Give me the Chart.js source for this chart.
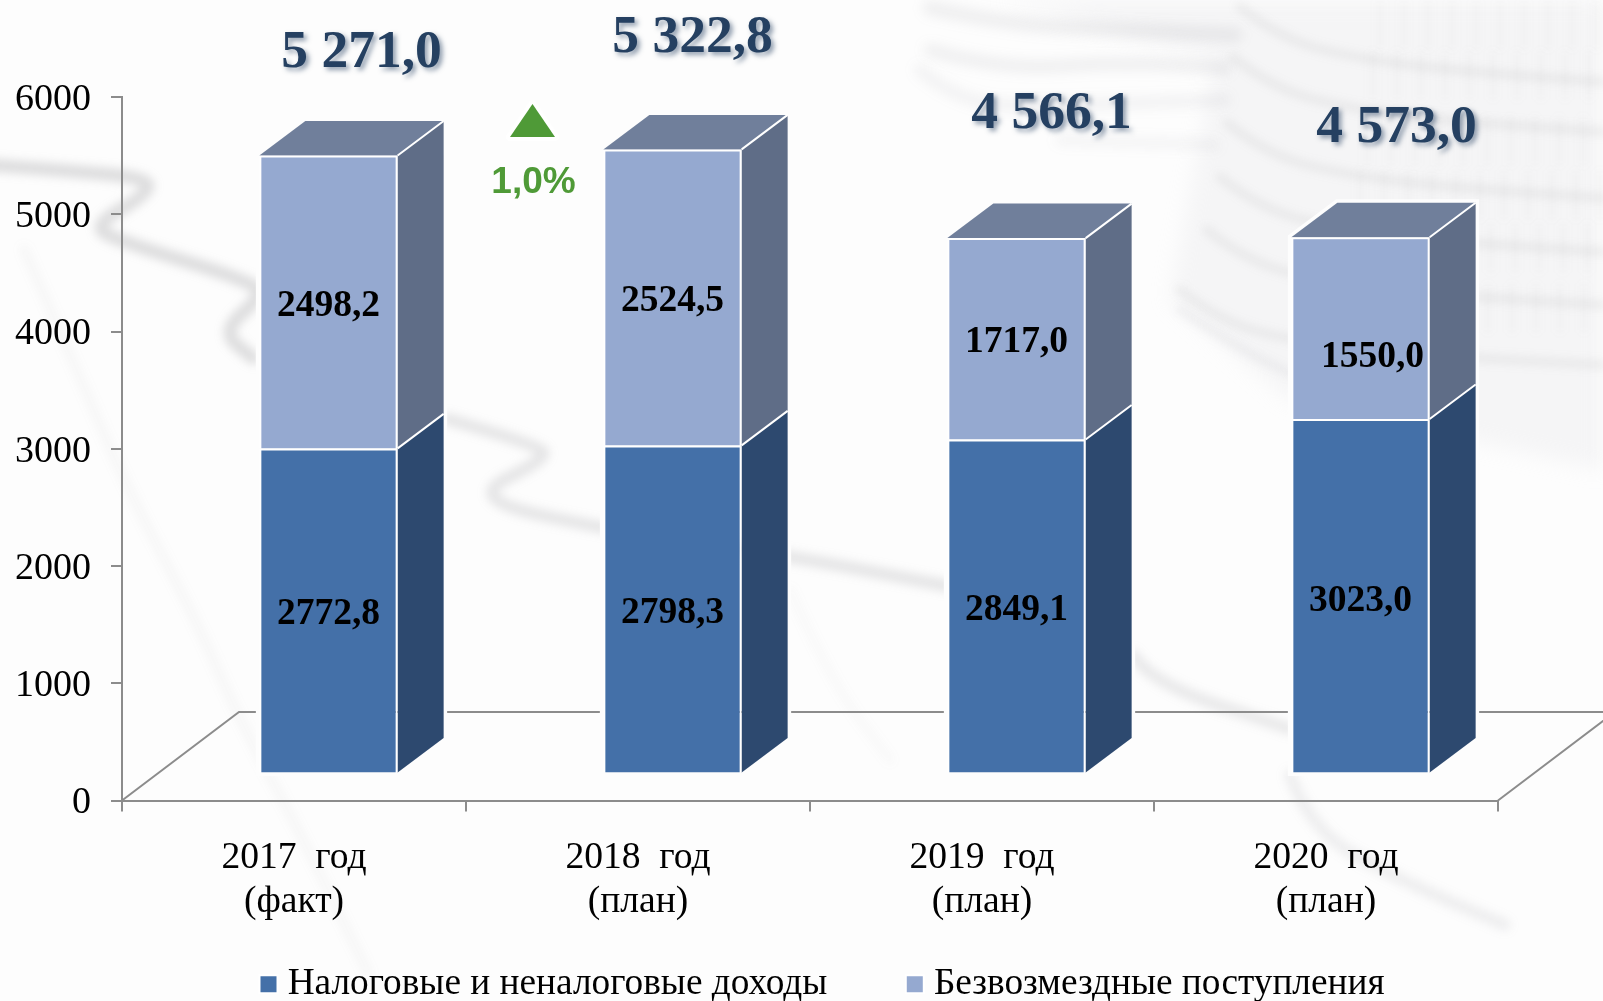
<!DOCTYPE html>
<html lang="ru">
<head>
<meta charset="utf-8">
<title>Доходы бюджета</title>
<script src="https://cdn.jsdelivr.net/npm/chart.js@4"></script>
<style>
  html, body { margin: 0; padding: 0; background: #fdfdfd; overflow: hidden; }
  canvas { display: block; }
</style>
</head>
<body>
<canvas id="myChart" width="1603" height="1001"></canvas>
<script>
const categories = [["2017  год", "(факт)"], ["2018  год", "(план)"], ["2019  год", "(план)"], ["2020  год", "(план)"]];
const taxIncome = [2772.8, 2798.3, 2849.1, 3023.0];
const grants = [2498.2, 2524.5, 1717.0, 1550.0];
const totals = [5271.0, 5322.8, 4566.1, 4573.0];
const seriesNames = ["Налоговые и неналоговые доходы", "Безвозмездные поступления"];
const growthLabel = "1,0%";

const serif = "'Liberation Serif', 'Times New Roman', serif";
const axisColor = "#8c8c8c";

// the floor of the fake 3D box and where the bars stand on it
const floorDx = 117;
const floorDy = 88.5;
const shiftX = 34.5;
const shiftY = -27;
const depthX = 46;
const depthY = 34.5;

// hand placed, the labels are not centred the same way on every bar
const totalOffsetX = [10, -3, 12, 13];
const totalOffsetY = [-68, -77, -89, -75];
const segmentLabelShift = { "1-3": [12, 25], "0-3": [0, 2] };

function fmt(v) {
  return v.toFixed(1).replace(".", ",");
}

function fmtTotal(v) {
  const s = fmt(v);
  return s.slice(0, 1) + " " + s.slice(1);
}

function poly(ctx, pts, fill) {
  ctx.beginPath();
  pts.forEach((p, i) => (i ? ctx.lineTo(p[0], p[1]) : ctx.moveTo(p[0], p[1])));
  ctx.closePath();
  ctx.fillStyle = fill;
  ctx.fill();
}

// smooth line through the midpoints of the given points
function swoosh(ctx, pts, width, alpha) {
  ctx.beginPath();
  ctx.moveTo(pts[0][0], pts[0][1]);
  for (let i = 1; i < pts.length - 1; i++) {
    ctx.quadraticCurveTo(pts[i][0], pts[i][1], (pts[i][0] + pts[i + 1][0]) / 2, (pts[i][1] + pts[i + 1][1]) / 2);
  }
  ctx.lineTo(pts[pts.length - 1][0], pts[pts.length - 1][1]);
  ctx.lineWidth = width;
  ctx.strokeStyle = "rgba(120,120,125," + alpha + ")";
  ctx.stroke();
}

// washed out picture behind the chart: stock line and coins
const backdrop = {
  id: "backdrop",
  beforeDraw(chart) {
    const ctx = chart.ctx;
    ctx.save();
    ctx.fillStyle = "#fdfdfd";
    ctx.fillRect(0, 0, 1603, 1001);
    ctx.lineCap = "round";
    ctx.lineJoin = "round";

    ctx.filter = "blur(5px)";
    swoosh(ctx, [[-10, 165], [59, 170], [150, 178], [146, 195], [92, 226], [119, 241], [253, 282],
      [262, 296], [221, 332], [253, 358]], 13, 0.24);
    swoosh(ctx, [[447, 419], [538, 445], [548, 458], [467, 498], [601, 529], [790, 556], [947, 586]], 12, 0.18);
    swoosh(ctx, [[1133, 655], [1151, 683], [1290, 729]], 12, 0.15);
    swoosh(ctx, [[1290, 775], [1310, 830], [1400, 880], [1505, 925]], 12, 0.11);
    swoosh(ctx, [[24, 249], [79, 375], [126, 486], [198, 624], [237, 715], [304, 840], [368, 973]], 9, 0.05);
    swoosh(ctx, [[790, 590], [830, 680], [890, 760]], 8, 0.04);

    // coins
    ctx.filter = "blur(10px)";
    poly(ctx, [[1000, 0], [1215, 60], [1170, 300], [1290, 400], [1603, 470], [1603, 0]], "rgba(225,225,228,0.25)");
    ctx.filter = "blur(6px)";
    swoosh(ctx, [[930, 8], [1010, 25], [1120, 30], [1235, 35]], 15, 0.1);
    swoosh(ctx, [[930, 50], [1000, 70], [1120, 62], [1225, 68]], 13, 0.1);
    swoosh(ctx, [[920, 70], [960, 105], [1060, 105], [1225, 100]], 12, 0.08);
    swoosh(ctx, [[1060, 140], [1130, 142], [1215, 145]], 10, 0.07);
    const bandX = [1240, 1233, 1227, 1220, 1207, 1180];
    const bandY = [7, 57, 123, 177, 230, 290];
    ctx.filter = "blur(4px)";
    bandX.forEach((x, i) => {
      swoosh(ctx, [[x, bandY[i]], [x + 40, bandY[i] + 32], [x + 120, bandY[i] + 52], [x + 220, bandY[i] + 64], [1603, bandY[i] + 75]], 9, 0.09);
      for (let sx = x + 140; sx < 1603; sx += 24) {
        swoosh(ctx, [[sx, bandY[i] - 4], [sx, bandY[i] + 40]], 7, 0.03);
      }
    });
    swoosh(ctx, [[1180, 310], [1240, 350], [1295, 375]], 9, 0.07);
    ctx.restore();
  },
};

const fake3d = {
  id: "fake3d",
  beforeDatasetsDraw(chart) {
    const ctx = chart.ctx;
    const area = chart.chartArea;
    ctx.save();
    ctx.strokeStyle = axisColor;
    ctx.lineWidth = 2;
    ctx.beginPath();
    ctx.moveTo(area.left, area.bottom);
    ctx.lineTo(area.left + floorDx, area.bottom - floorDy);
    ctx.lineTo(1603, area.bottom - floorDy);
    ctx.moveTo(area.right, area.bottom);
    ctx.lineTo(area.right + floorDx, area.bottom - floorDy);
    ctx.stroke();

    const low = chart.getDatasetMeta(0).data;
    const high = chart.getDatasetMeta(1).data;
    low.forEach((bar, i) => {
      const left = bar.x - bar.width / 2 + shiftX;
      const right = bar.x + bar.width / 2 + shiftX;
      const base = bar.base + shiftY;
      const mid = bar.y + shiftY;
      const top = high[i].y + shiftY;
      const halo = [[left, base], [left, top], [left + depthX, top - depthY], [right + depthX, top - depthY], [right + depthX, base - depthY], [right, base]];
      ctx.beginPath();
      halo.forEach((p, k) => (k ? ctx.lineTo(p[0], p[1]) : ctx.moveTo(p[0], p[1])));
      ctx.closePath();
      ctx.strokeStyle = "#fdfdfd";
      ctx.lineWidth = 7;
      ctx.stroke();

      poly(ctx, [[right, base], [right + depthX, base - depthY], [right + depthX, mid - depthY], [right, mid]], "#2d496f");
      poly(ctx, [[right, mid], [right + depthX, mid - depthY], [right + depthX, top - depthY], [right, top]], "#5f6d87");
      poly(ctx, [[left, top], [left + depthX, top - depthY], [right + depthX, top - depthY], [right, top]], "#707f9b");

      ctx.strokeStyle = "#ffffff";
      ctx.lineWidth = 2;
      ctx.beginPath();
      ctx.moveTo(right, top);
      ctx.lineTo(right + depthX, top - depthY);
      ctx.moveTo(right, mid);
      ctx.lineTo(right + depthX, mid - depthY);
      ctx.stroke();
    });
    ctx.restore();

    // bars themselves get pushed onto the floor
    ctx.save();
    ctx.translate(shiftX, shiftY);
  },
  afterDatasetsDraw(chart) {
    const ctx = chart.ctx;
    ctx.restore();

    const y = chart.scales.y;
    const stacks = [taxIncome, grants];
    ctx.save();
    ctx.textAlign = "center";
    ctx.textBaseline = "middle";
    ctx.fillStyle = "#000000";
    ctx.font = "bold 37.5px " + serif;
    stacks.forEach((values, s) => {
      chart.getDatasetMeta(s).data.forEach((bar, i) => {
        const shift = segmentLabelShift[s + "-" + i] || [0, 0];
        ctx.fillText(fmt(values[i]), bar.x + shiftX + shift[0], (bar.y + bar.base) / 2 + shiftY + 4 + shift[1]);
      });
    });

    ctx.font = "bold 53.5px " + serif;
    ctx.fillStyle = "#254061";
    ctx.shadowColor = "rgba(37,64,97,0.5)";
    ctx.shadowBlur = 5;
    ctx.shadowOffsetX = 3;
    ctx.shadowOffsetY = 3;
    totals.forEach((total, i) => {
      const bar = chart.getDatasetMeta(1).data[i];
      ctx.fillText(fmtTotal(total), bar.x + shiftX + depthX / 2 + totalOffsetX[i], y.getPixelForValue(total) + shiftY - depthY + totalOffsetY[i]);
    });
    ctx.restore();

    // growth mark between first two bars
    ctx.save();
    ctx.beginPath();
    ctx.moveTo(532.5, 104);
    ctx.lineTo(555, 137);
    ctx.lineTo(510, 137);
    ctx.closePath();
    ctx.strokeStyle = "#ffffff";
    ctx.lineWidth = 8;
    ctx.lineJoin = "round";
    ctx.stroke();
    ctx.fillStyle = "#4f9a37";
    ctx.fill();
    ctx.font = "bold 37px 'Liberation Sans', Arial, sans-serif";
    ctx.textAlign = "center";
    ctx.textBaseline = "middle";
    ctx.fillText(growthLabel, 533.5, 183);
    ctx.restore();
  },
  afterLayout(chart) {
    // legend sits lower right of its normal place, padding only spaces the two items
    const legend = chart.legend;
    const padding = 87;
    legend.left = 268 - padding;
    legend.right = legend.left + 1400;
    legend.top = 965.5 - padding;
  },
};

new Chart(document.getElementById("myChart"), {
  type: "bar",
  data: {
    labels: categories,
    datasets: [
      {
        label: seriesNames[0],
        data: taxIncome,
        backgroundColor: "#4470a8",
        borderColor: "#ffffff",
        borderWidth: 2,
      },
      {
        label: seriesNames[1],
        data: grants,
        backgroundColor: "#95a9d0",
        borderColor: "#ffffff",
        borderWidth: 2,
      },
    ],
  },
  plugins: [backdrop, fake3d],
  options: {
    responsive: false,
    animation: false,
    events: [],
    layout: {
      autoPadding: false,
      padding: { top: 97, right: 105, left: 0, bottom: 0 },
    },
    datasets: {
      bar: { categoryPercentage: 1, barPercentage: 0.402 },
    },
    scales: {
      x: {
        stacked: true,
        afterFit(axis) {
          axis.height = 140.5;
        },
        border: { color: axisColor, width: 2 },
        grid: { drawOnChartArea: false, color: axisColor, lineWidth: 2, tickLength: 11, offset: true },
        ticks: {
          autoSkip: false,
          maxRotation: 0,
          padding: 24,
          color: "#000000",
          font: { family: serif, size: 37.6, lineHeight: 1.19 },
        },
      },
      y: {
        stacked: true,
        min: 0,
        max: 6000,
        afterFit(axis) {
          axis.width = 122;
        },
        border: { color: axisColor, width: 2 },
        grid: { drawOnChartArea: false, color: axisColor, lineWidth: 2, tickLength: 11 },
        ticks: {
          stepSize: 1000,
          padding: 20,
          labelOffset: 3,
          color: "#000000",
          font: { family: serif, size: 38 },
          callback: (value) => String(value),
        },
      },
    },
    plugins: {
      tooltip: { enabled: false },
      legend: {
        position: "bottom",
        align: "start",
        maxHeight: 60,
        labels: {
          usePointStyle: true,
          pointStyle: "rect",
          boxWidth: 1,
          boxHeight: 18,
          padding: 87,
          color: "#000000",
          font: { family: serif, size: 37.3 },
        },
      },
    },
  },
});
</script>
</body>
</html>
